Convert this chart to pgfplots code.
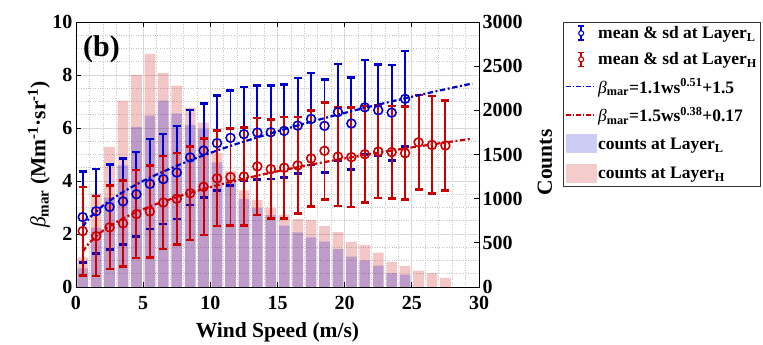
\documentclass[border=0pt]{standalone}
\usepackage{pgfplots}
\pgfplotsset{compat=1.18}
\usepackage{pgfplotstable}
\usepackage{fontspec}
\setmainfont{Liberation Serif}

\definecolor{mblue}{rgb}{0,0,0.8}
\definecolor{mred}{rgb}{0.8,0,0}

\pgfplotsset{
  lineleg/.style={legend image code/.code={
    \draw[#1, line width=1.6bp, dash pattern=on 4.5bp off 2bp on 1.5bp off 2bp] (0bp,0bp) -- (30bp,0bp);}},
  errleg/.style={legend image code/.code={
    \path (0bp,0bp) (30bp,0bp);
    \draw[#1, solid, line width=1.6bp] (15bp,-7bp) -- (15bp,7bp);
    \draw[#1, solid, line width=1.6bp] (12bp,-7bp) -- (18bp,-7bp) (12bp,7bp) -- (18bp,7bp);
    \draw[#1, solid, line width=1.1bp, fill=white] (15bp,0bp) circle (2.5bp);}},
  barleg/.style={legend image code/.code={\path[draw=none, fill=#1, fill opacity=0.2] (0bp,-9bp) rectangle (31bp,10bp);}},
}

\pgfplotstableread{
x L H
0.5 211 335
1.5 671 1059
2.5 1014 1587
3.5 1376 2111
4.5 1813 2401
5.5 1941 2639
6.5 2111 2420
7.5 1964 2281
8.5 1836 2032
9.5 1790 1860
10.5 1410 1515
11.5 1214 1316
12.5 999 1093
13.5 897 984
14.5 814 897
15.5 695 820
16.5 618 771
17.5 563 758
18.5 515 692
19.5 428 622
20.5 343 512
21.5 301 477
22.5 243 388
23.5 156 285
24.5 140 239
25.5 nan 185
26.5 nan 156
27.5 nan 102
}\cnt

\newcommand{\bt}{{\mdseries\itshape β}}

\begin{document}
\begin{tikzpicture}
\useasboundingbox (-76bp,-58bp) rectangle (687bp,287bp);
\begin{axis}[
  scale only axis, width=403bp, height=265bp,
  at={(0,0)}, anchor=south west,
  xmin=0, xmax=30, ymin=0, ymax=10,
  xtick={0,5,...,30}, ytick={0,2,...,10},
  minor x tick num=4, minor y tick num=3,
  grid=both,
  major grid style={draw=black!15, line width=0.9bp},
  minor grid style={draw=black!22, dotted, line width=0.7bp},
  tick align=inside, ytick pos=left,
  major tick length=5bp, minor tick length=0bp,
  tick style={black, line width=0.9bp},
  axis line style={line width=0.9bp},
  /pgf/number format/assume math mode=true,
  ticklabel style={font=\fontsize{20bp}{24bp}\selectfont\bfseries},
  xticklabel style={inner ysep=0pt, yshift=-9bp},
  every axis x label/.style={at={(rel axis cs:0.5,0)}, yshift=-50bp, anchor=base},
  every axis y label/.style={at={(rel axis cs:0,0.5)}, xshift=-37bp, anchor=center, rotate=90},
  label style={font=\fontsize{21.5bp}{26bp}\selectfont\bfseries},
  xlabel={Wind Speed (m/s)},
  ylabel={\bt\textsubscript{mar} (Mm\textsuperscript{-1}·sr\textsuperscript{-1})},
  legend style={at={(1.2084,1)}, anchor=north west, draw=black!80, line width=0.8bp,
    font=\fontsize{17.5bp}{21bp}\selectfont\bfseries,
    inner xsep=2bp, inner ysep=3bp, row sep=10.5bp,
    nodes={inner sep=1bp}, cells={anchor=west}},
]
% counts (right axis: 3000 counts = 10 units)
\addplot[ybar, bar shift=0pt, bar width=0.8, draw=none, fill=mred, fill opacity=0.22, forget plot]
  table[x=x, y expr=\thisrow{H}/300] {\cnt};
\addplot[ybar, bar shift=0pt, bar width=0.8, draw=none, fill=mblue, fill opacity=0.22, forget plot]
  table[x=x, y expr=\thisrow{L}/300] {\cnt};

% mean & sd Layer L
\addplot[mblue, only marks, mark=o, mark size=4.4bp, mark options={line width=1.6bp}, errleg=mblue,
  error bars/.cd, y dir=both, y explicit,
  error bar style={line width=1.9bp, mblue},
  error mark options={rotate=90, mark size=4bp, line width=2.6bp, mblue},
  ] coordinates {
(0.5,2.64) +- (0,1.71)
(1.5,2.86) +- (0,1.59)
(2.5,3.02) +- (0,1.60)
(3.5,3.23) +- (0,1.62)
(4.5,3.50) +- (0,1.59)
(5.5,3.89) +- (0,1.70)
(6.5,4.07) +- (0,1.70)
(7.5,4.32) +- (0,1.76)
(8.5,4.89) +- (0,1.79)
(9.5,5.15) +- (0,1.78)
(10.5,5.43) +- (0,1.79)
(11.5,5.63) +- (0,1.79)
(12.5,5.77) +- (0,1.77)
(13.5,5.83) +- (0,1.78)
(14.5,5.84) +- (0,1.76)
(15.5,5.89) +- (0,1.76)
(16.5,6.09) +- (0,1.80)
(17.5,6.34) +- (0,1.74)
(18.5,6.08) +- (0,1.76)
(19.5,6.60) +- (0,1.82)
(20.5,6.17) +- (0,1.73)
(21.5,6.78) +- (0,1.79)
(22.5,6.67) +- (0,1.73)
(23.5,6.58) +- (0,1.80)
(24.5,7.10) +- (0,1.80)
};
\addlegendentry{mean \& sd at Layer\textsubscript{L}}

% mean & sd Layer H
\addplot[mred, only marks, mark=o, mark size=4.4bp, mark options={line width=1.6bp}, errleg=mred,
  error bars/.cd, y dir=both, y explicit,
  error bar style={line width=1.9bp, mred},
  error mark options={rotate=90, mark size=4bp, line width=2.6bp, mred},
  ] coordinates {
(0.5,2.11) +- (0,1.67)
(1.5,1.92) +- (0,1.51)
(2.5,2.25) +- (0,1.57)
(3.5,2.40) +- (0,1.62)
(4.5,2.75) +- (0,1.66)
(5.5,2.85) +- (0,1.74)
(6.5,3.19) +- (0,1.75)
(7.5,3.33) +- (0,1.73)
(8.5,3.54) +- (0,1.76)
(9.5,3.78) +- (0,1.82)
(10.5,4.10) +- (0,1.80)
(11.5,4.15) +- (0,1.82)
(12.5,4.17) +- (0,1.84)
(13.5,4.55) +- (0,1.83)
(14.5,4.45) +- (0,1.87)
(15.5,4.50) +- (0,1.91)
(16.5,4.59) +- (0,1.82)
(17.5,4.85) +- (0,1.82)
(18.5,5.14) +- (0,1.83)
(19.5,4.92) +- (0,1.87)
(20.5,4.90) +- (0,1.88)
(21.5,5.01) +- (0,1.82)
(22.5,5.11) +- (0,1.75)
(23.5,5.09) +- (0,1.74)
(24.5,5.05) +- (0,1.75)
(25.5,5.46) +- (0,1.78)
(26.5,5.36) +- (0,1.84)
(27.5,5.34) +- (0,1.70)
};
\addlegendentry{mean \& sd at Layer\textsubscript{H}}

% fitted curves
\addplot[mblue, line width=2.2bp, smooth, dash pattern=on 5.5bp off 2.5bp on 2bp off 2.5bp, lineleg=mblue]
  coordinates {(0.5,2.272) (1,2.600) (2,3.066) (3,3.426) (4,3.731) (5,4.000) (6,4.243)
  (8,4.677) (10,5.060) (12,5.406) (15,5.877) (18,6.305) (21,6.697) (24,7.063) (27,7.407) (29.5,7.680)};
\addlegendentry{\bt\textsubscript{mar}=1.1ws\textsuperscript{0.51}+1.5}
\addplot[mred, line width=2.2bp, smooth, dash pattern=on 5.5bp off 2.5bp on 2bp off 2.5bp, lineleg=mred]
  coordinates {(0.5,1.323) (1,1.670) (2,2.122) (3,2.447) (4,2.711) (5,2.935) (6,3.134)
  (8,3.475) (10,3.769) (12,4.026) (15,4.367) (18,4.668) (21,4.940) (24,5.189) (27,5.418) (29.5,5.598)};
\addlegendentry{\bt\textsubscript{mar}=1.5ws\textsuperscript{0.38}+0.17}

\addlegendimage{barleg=mblue}
\addlegendentry{counts at Layer\textsubscript{L}}
\addlegendimage{barleg=mred}
\addlegendentry{counts at Layer\textsubscript{H}}

\node[anchor=base west, inner sep=0pt, font=\fontsize{30bp}{36bp}\selectfont\bfseries]
  at (rel axis cs:0,1) [xshift=7bp, yshift=-35bp] {(b)};
\end{axis}

\begin{axis}[
  scale only axis, width=403bp, height=265bp,
  at={(0,0)}, anchor=south west,
  xmin=0, xmax=30, ymin=0, ymax=3000,
  hide x axis, axis y line*=right,
  ytick={0,500,...,3000},
  tick align=inside, major tick length=5bp,
  tick style={black, line width=0.9bp},
  axis line style={line width=0.9bp, -},
  /pgf/number format/assume math mode=true,
  /pgf/number format/1000 sep={},
  ticklabel style={font=\fontsize{20bp}{24bp}\selectfont\bfseries},
  yticklabel style={inner ysep=0pt},
  every axis y label/.style={at={(rel axis cs:1,0.47)}, xshift=66bp, anchor=center, rotate=90},
  label style={font=\fontsize{21.5bp}{26bp}\selectfont\bfseries},
  ylabel={Counts},
]
\addplot[draw=none, forget plot] coordinates {(0,0)};
\end{axis}
\end{tikzpicture}
\end{document}
